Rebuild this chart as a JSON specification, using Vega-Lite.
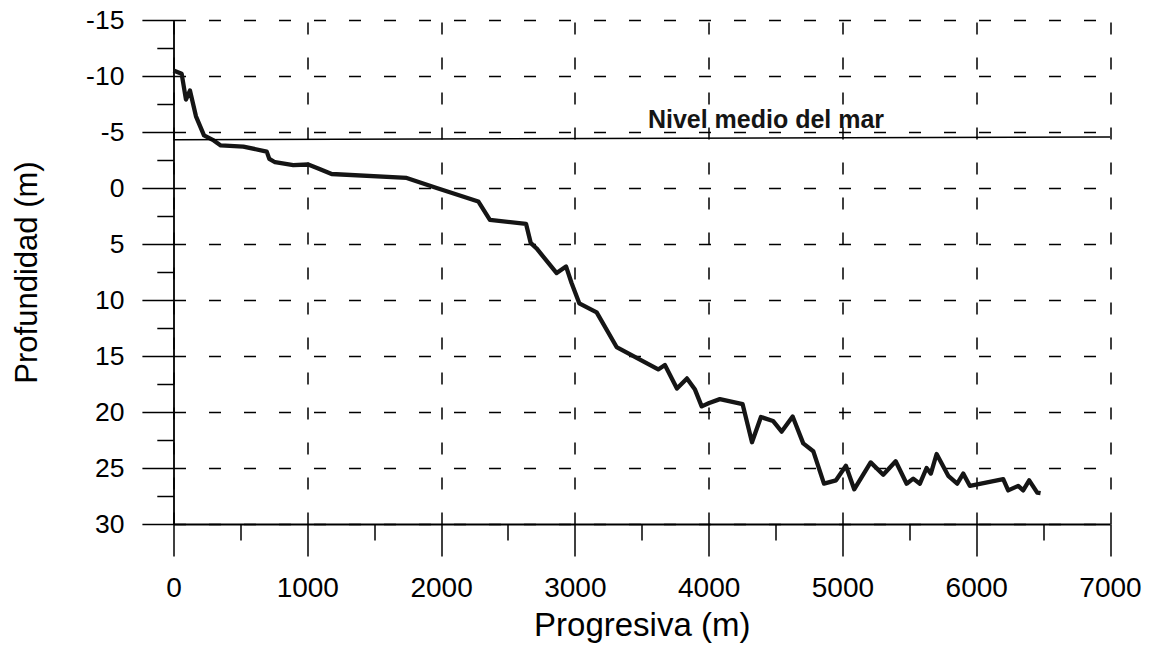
{
  "$schema": "https://vega.github.io/schema/vega-lite/v6.json",
  "width": 936.5,
  "height": 504,
  "autosize": {"type": "none"},
  "padding": {"left": 173.5, "top": 20, "right": 44, "bottom": 124},
  "background": "white",
  "config": {"view": {"stroke": null}, "font": "Liberation Sans"},
  "datasets": {
    "perfil": [
      {"progresiva": 0, "profundidad": -10.5},
      {"progresiva": 61, "profundidad": -10.2},
      {"progresiva": 93, "profundidad": -7.9},
      {"progresiva": 123, "profundidad": -8.7},
      {"progresiva": 168, "profundidad": -6.4},
      {"progresiva": 228, "profundidad": -4.7},
      {"progresiva": 293, "profundidad": -4.3},
      {"progresiva": 353, "profundidad": -3.8},
      {"progresiva": 522, "profundidad": -3.7},
      {"progresiva": 697, "profundidad": -3.25},
      {"progresiva": 716, "profundidad": -2.6},
      {"progresiva": 759, "profundidad": -2.3},
      {"progresiva": 895, "profundidad": -2.05},
      {"progresiva": 1007, "profundidad": -2.1},
      {"progresiva": 1082, "profundidad": -1.75},
      {"progresiva": 1182, "profundidad": -1.25},
      {"progresiva": 1743, "profundidad": -0.9},
      {"progresiva": 1967, "profundidad": 0.0},
      {"progresiva": 2278, "profundidad": 1.2},
      {"progresiva": 2365, "profundidad": 2.85},
      {"progresiva": 2635, "profundidad": 3.2},
      {"progresiva": 2670, "profundidad": 4.9},
      {"progresiva": 2714, "profundidad": 5.4},
      {"progresiva": 2864, "profundidad": 7.6},
      {"progresiva": 2934, "profundidad": 7.0},
      {"progresiva": 2976, "profundidad": 8.5},
      {"progresiva": 3033, "profundidad": 10.3},
      {"progresiva": 3163, "profundidad": 11.1},
      {"progresiva": 3312, "profundidad": 14.2},
      {"progresiva": 3623, "profundidad": 16.2},
      {"progresiva": 3673, "profundidad": 15.8},
      {"progresiva": 3763, "profundidad": 17.9},
      {"progresiva": 3838, "profundidad": 17.0},
      {"progresiva": 3898, "profundidad": 18.0},
      {"progresiva": 3948, "profundidad": 19.5},
      {"progresiva": 4004, "profundidad": 19.2},
      {"progresiva": 4084, "profundidad": 18.85},
      {"progresiva": 4254, "profundidad": 19.3},
      {"progresiva": 4324, "profundidad": 22.7},
      {"progresiva": 4391, "profundidad": 20.45},
      {"progresiva": 4481, "profundidad": 20.8},
      {"progresiva": 4546, "profundidad": 21.75},
      {"progresiva": 4628, "profundidad": 20.4},
      {"progresiva": 4707, "profundidad": 22.8},
      {"progresiva": 4782, "profundidad": 23.5},
      {"progresiva": 4862, "profundidad": 26.4},
      {"progresiva": 4952, "profundidad": 26.1},
      {"progresiva": 5026, "profundidad": 24.8},
      {"progresiva": 5088, "profundidad": 26.9},
      {"progresiva": 5211, "profundidad": 24.5},
      {"progresiva": 5305, "profundidad": 25.6},
      {"progresiva": 5398, "profundidad": 24.4},
      {"progresiva": 5480, "profundidad": 26.4},
      {"progresiva": 5529, "profundidad": 25.95},
      {"progresiva": 5579, "profundidad": 26.4},
      {"progresiva": 5629, "profundidad": 25.0},
      {"progresiva": 5661, "profundidad": 25.5},
      {"progresiva": 5704, "profundidad": 23.75},
      {"progresiva": 5791, "profundidad": 25.7},
      {"progresiva": 5858, "profundidad": 26.4},
      {"progresiva": 5903, "profundidad": 25.5},
      {"progresiva": 5953, "profundidad": 26.6},
      {"progresiva": 6202, "profundidad": 26.0},
      {"progresiva": 6239, "profundidad": 27.0},
      {"progresiva": 6314, "profundidad": 26.6},
      {"progresiva": 6351, "profundidad": 27.0},
      {"progresiva": 6396, "profundidad": 26.1},
      {"progresiva": 6456, "profundidad": 27.2},
      {"progresiva": 6481, "profundidad": 27.25}
    ],
    "nivel": [
      {"progresiva": 0, "profundidad": -4.3},
      {"progresiva": 7000, "profundidad": -4.55}
    ],
    "etiqueta": [
      {"progresiva": 3546, "profundidad": -5.36, "texto": "Nivel medio del mar"}
    ]
  },
  "layer": [
    {
      "data": {"name": "perfil"},
      "mark": {"type": "line", "color": "#151515", "strokeWidth": 4.3, "strokeJoin": "round"},
      "encoding": {
        "x": {
          "field": "progresiva", "type": "quantitative",
          "scale": {"domain": [0, 7000], "nice": false, "zero": false},
          "axis": {
            "orient": "bottom",
            "values": [0, 1000, 2000, 3000, 4000, 5000, 6000, 7000],
            "labelExpr": "'' + datum.value",
            "domain": true, "domainColor": "black", "domainWidth": 1.8,
            "ticks": true, "tickColor": "black", "tickWidth": 1.5, "tickSize": 32,
            "labels": true, "labelFontSize": 28, "labelColor": "black", "labelPadding": 18,
            "labelFlush": false, "labelOverlap": false,
            "grid": true, "gridColor": "black", "gridWidth": 1.5, "gridDash": [12, 23], "gridOpacity": 1,
            "title": "Progresiva (m)", "titleFontSize": 33, "titleFontWeight": "normal",
            "titleColor": "black", "titleBaseline": "alphabetic", "titleY": 111
          }
        },
        "y": {
          "field": "profundidad", "type": "quantitative",
          "scale": {"domain": [-15, 30], "nice": false, "zero": false, "reverse": true},
          "axis": {
            "orient": "left",
            "values": [-15, -10, -5, 0, 5, 10, 15, 20, 25, 30],
            "labelExpr": "'' + datum.value",
            "domain": true, "domainColor": "black", "domainWidth": 1.8,
            "ticks": true, "tickColor": "black", "tickWidth": 1.5, "tickSize": 31.6,
            "labels": true, "labelFontSize": 26.5, "labelColor": "black", "labelPadding": 18,
            "labelFlush": false, "labelOverlap": false,
            "grid": true, "gridColor": "black", "gridWidth": 1.5, "gridDash": [12, 23], "gridOpacity": 1,
            "title": "Profundidad (m)", "titleFontSize": 31, "titleFontWeight": "normal",
            "titleColor": "black", "titleAngle": 270, "titleBaseline": "alphabetic", "titleX": -137
          }
        }
      }
    },
    {
      "data": {"name": "nivel"},
      "mark": {"type": "line", "color": "black", "strokeWidth": 1.5},
      "encoding": {
        "x": {
          "field": "progresiva", "type": "quantitative",
          "scale": {"domain": [0, 7000], "nice": false, "zero": false},
          "axis": {
            "orient": "bottom",
            "values": [500, 1500, 2500, 3500, 4500, 5500, 6500],
            "domain": false, "labels": false, "grid": false, "title": null,
            "ticks": true, "tickColor": "black", "tickWidth": 1.5, "tickSize": 16
          }
        },
        "y": {
          "field": "profundidad", "type": "quantitative",
          "scale": {"domain": [-15, 30], "nice": false, "zero": false, "reverse": true},
          "axis": {
            "orient": "left",
            "values": [-12.5, -7.5, -2.5, 2.5, 7.5, 12.5, 17.5, 22.5, 27.5],
            "domain": false, "labels": false, "grid": false, "title": null,
            "ticks": true, "tickColor": "black", "tickWidth": 1.5, "tickSize": 16.7
          }
        }
      }
    },
    {
      "data": {"name": "etiqueta"},
      "mark": {"type": "text", "align": "left", "baseline": "alphabetic", "fontSize": 25, "fontWeight": "bold", "color": "#151515"},
      "encoding": {
        "x": {"field": "progresiva", "type": "quantitative", "scale": {"domain": [0, 7000], "nice": false, "zero": false}, "axis": null},
        "y": {"field": "profundidad", "type": "quantitative", "scale": {"domain": [-15, 30], "nice": false, "zero": false, "reverse": true}, "axis": null},
        "text": {"field": "texto", "type": "nominal"}
      }
    }
  ],
  "resolve": {"axis": {"x": "independent", "y": "independent"}}
}
